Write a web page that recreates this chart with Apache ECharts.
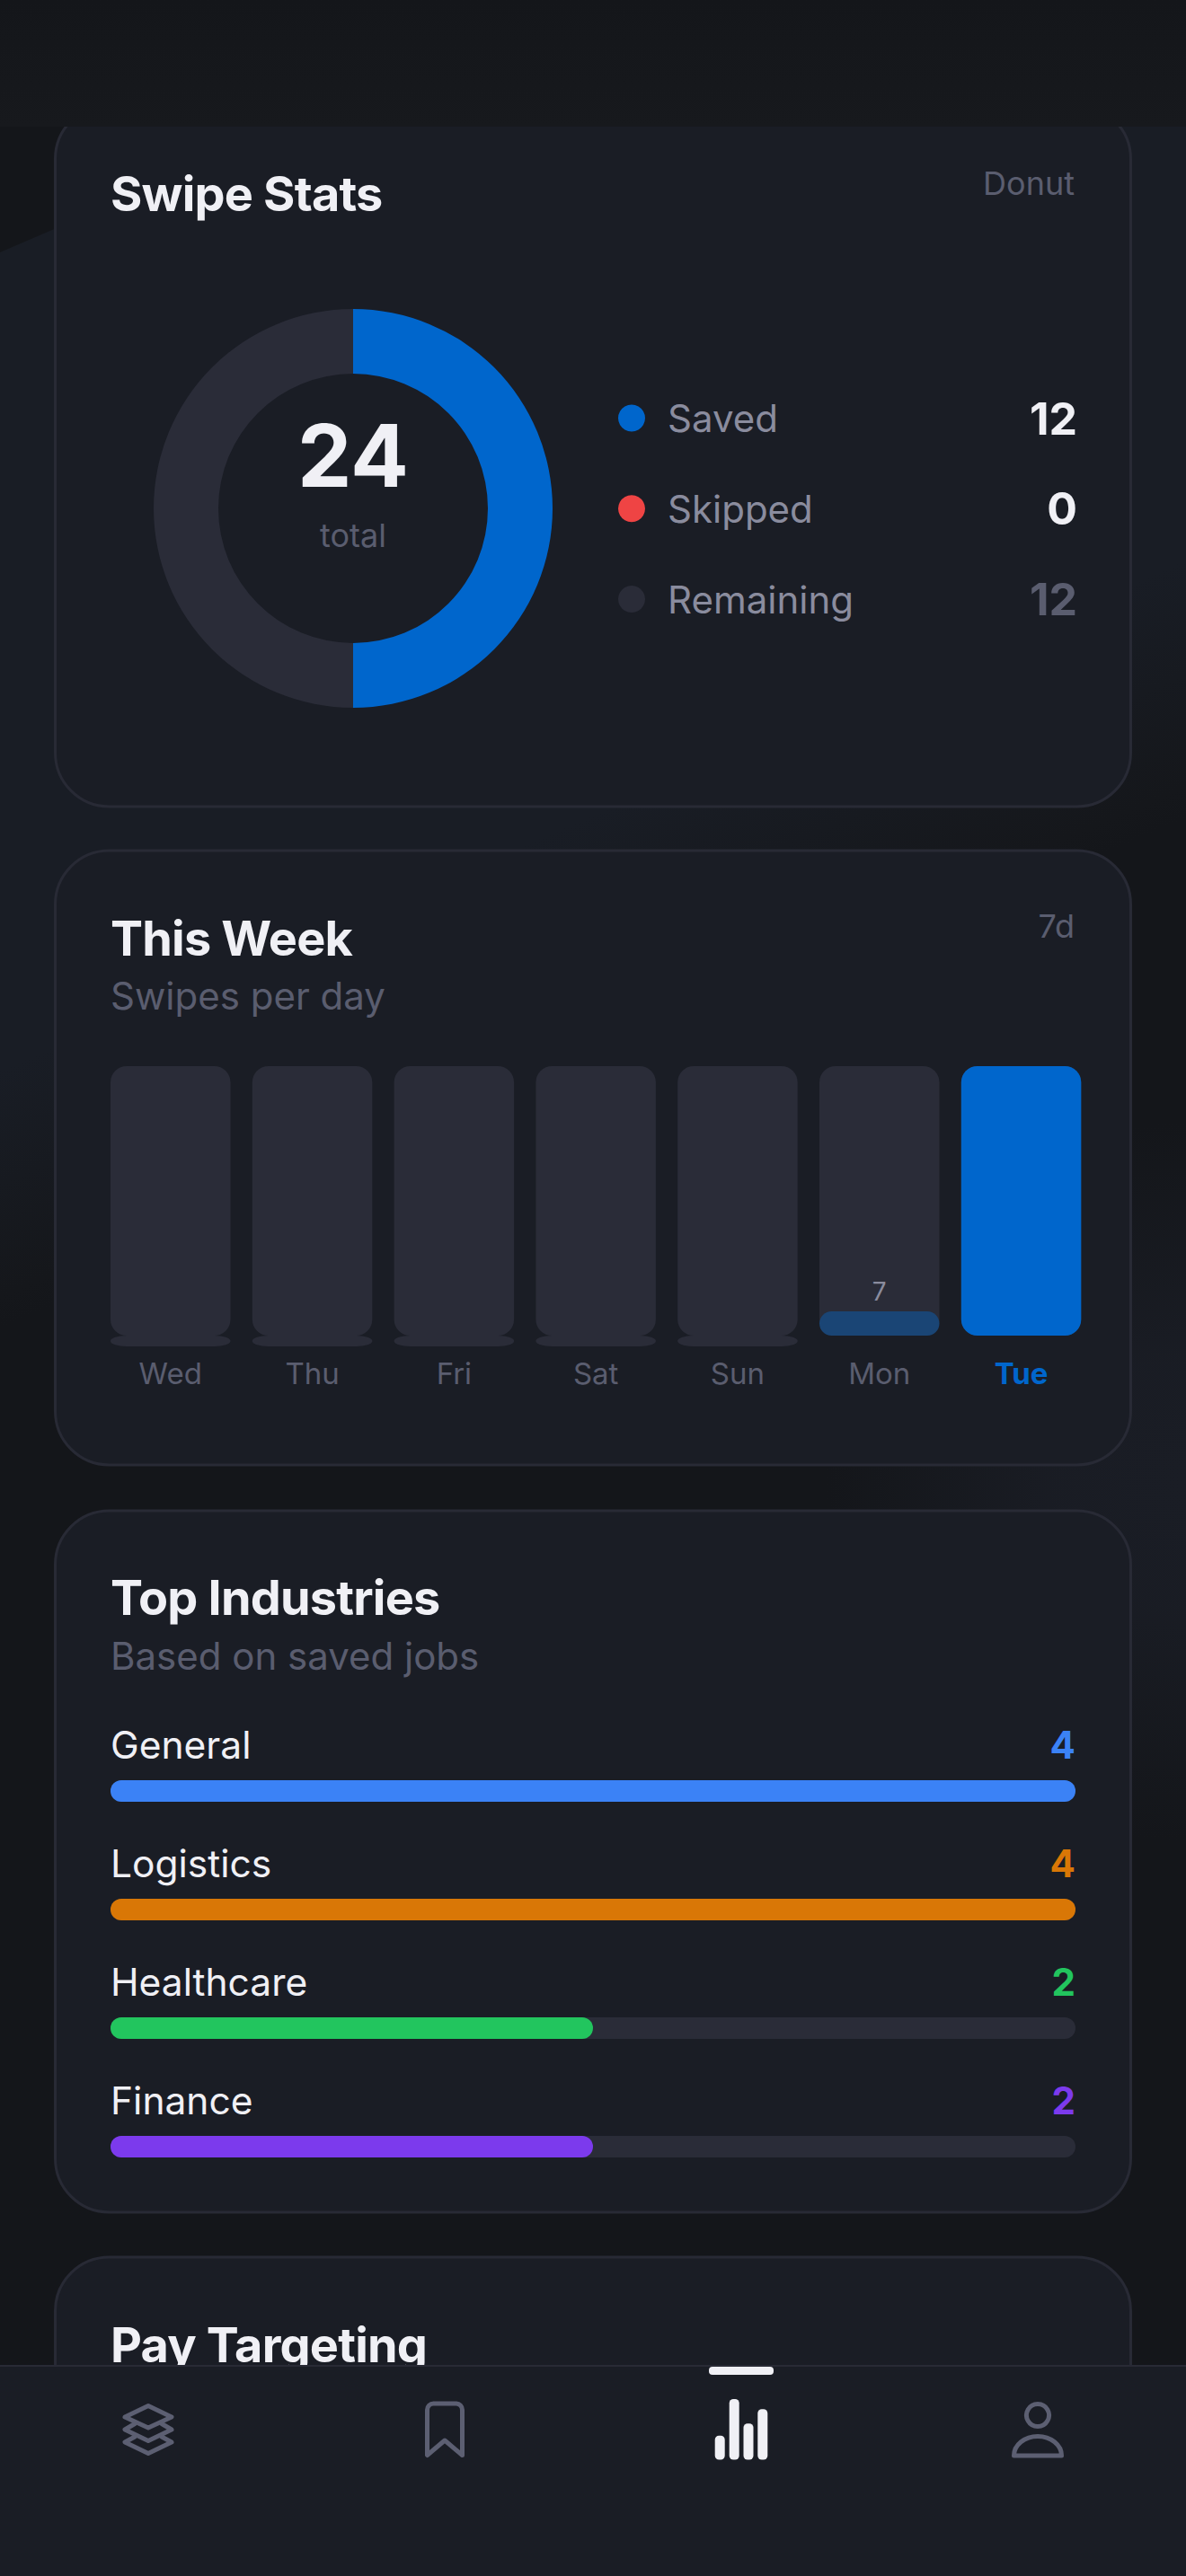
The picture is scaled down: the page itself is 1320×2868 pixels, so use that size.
<!DOCTYPE html>
<html><head><meta charset="utf-8">
<style>html,body{margin:0;padding:0;background:#14161a}#c{width:1320px;height:2868px}
#c text[style*="54px"]{letter-spacing:-.8px}
</style>
<script src="https://cdn.jsdelivr.net/npm/echarts@6/dist/echarts.min.js"></script>
</head><body><div id="c"></div>
<script>
// ---- data ----
const swipeNames = ['Saved', 'Skipped', 'Remaining'];
const swipeValues = [12, 0, 12];
const swipeColors = ['#0066cc', '#ef4444', '#2a2c38'];
const swipeTotalLabel = 'total';
const days = ['Wed', 'Thu', 'Fri', 'Sat', 'Sun', 'Mon', 'Tue'];
const dayValues = [0, 0, 0, 0, 0, 7, 78];
const industries = ['General', 'Logistics', 'Healthcare', 'Finance'];
const industryValues = [4, 4, 2, 2];
const industryColors = ['#3b82f6', '#d97706', '#22c55e', '#7c3aed'];

// ---- palette ----
const FONT = 'Inter, "Noto Sans", sans-serif';
const CARD = '#1a1d25', BORDER = '#282a35', TRACK = '#2a2c38';
const WHITE = '#f0f0f5', MUTED = '#5a5d6f', GREY = '#8a8c9e', ACCENT = '#0066cc';

const total = swipeValues.reduce((a, b) => a + b, 0);
const dayMax = Math.max(...dayValues);
const stub = dayMax / 25;
const indMax = Math.max(...industryValues);

function txt(text, x, y, size, weight, fill, align, z) {
  return { type: 'text', z: z || 1, silent: true,
    style: { text, x, y, fontSize: size, fontWeight: weight, fontFamily: FONT, fill,
      align: align || 'left', verticalAlign: 'middle' } };
}
function card(y, h) {
  return { type: 'rect', z: -5, silent: true, shape: { x: 61.5, y, width: 1197, height: h, r: 60 },
    style: { fill: CARD, stroke: BORDER, lineWidth: 3 } };
}
let iconCount = 0;
function icon(d, stroke) {
  const name = 'navIcon' + (iconCount++);
  echarts.graphic.registerShape(name, echarts.graphic.extendPath(d, {}));
  return { type: name, z: 101, silent: true,
    style: { fill: 'none', stroke, lineWidth: 5, lineJoin: 'round', lineCap: 'round' } };
}
function solid(x, y, w, h, r, fill, z) {
  return { type: 'rect', z: z || 101, silent: true, shape: { x, y, width: w, height: h, r }, style: { fill } };
}

const graphics = [
  // page background
  solid(0, 0, 1320, 2868, 0, '#14161a', -20),
  { type: 'polygon', z: -19, silent: true,
    shape: { points: [[0, 281], [1320, -287], [1320, 2868], [0, 2868]] },
    style: { fill: new echarts.graphic.LinearGradient(0, 281, 435, 1292, [
      { offset: 0, color: '#191d25' }, { offset: 0.76, color: '#191d25' },
      { offset: 0.97, color: '#15171b' }, { offset: 1, color: '#14161a' }], true) } },
  { type: 'rect', z: -18, silent: true, shape: { x: 800, y: 1250, width: 520, height: 800 },
    style: { fill: new echarts.graphic.RadialGradient(1320, 1650, 400, [
      { offset: 0, color: 'rgba(26,29,37,1)' }, { offset: 0.35, color: 'rgba(26,29,37,0.9)' },
      { offset: 1, color: 'rgba(26,29,37,0)' }], true) } },

  // cards
  card(117, 781), card(947, 684), card(1682, 781), card(2513, 400),

  // card 1
  txt('Swipe Stats', 123, 215, 54, 700, WHITE),
  txt('Donut', 1196, 204, 36, 400, MUTED, 'right'),
  txt(String(total), 393, 507, 96, 700, WHITE, 'center', 5),
  txt(swipeTotalLabel, 393, 596, 36, 400, MUTED, 'center', 5),

  // card 2
  txt('This Week', 123, 1044, 54, 700, WHITE),
  txt('Swipes per day', 123, 1108, 42, 400, MUTED),
  txt('7d', 1196, 1031, 36, 400, MUTED, 'right'),

  // card 3
  txt('Top Industries', 123, 1778, 54, 700, WHITE),
  txt('Based on saved jobs', 123, 1843, 42, 400, MUTED),

  // card 4 (clipped by the nav)
  txt('Pay Targeting', 123, 2610, 54, 700, WHITE),

  // header + nav
  { type: 'rect', z: 100, silent: true, shape: { x: 0, y: 0, width: 1320, height: 141 },
    style: { fill: new echarts.graphic.LinearGradient(0, 0, 0, 1, [
      { offset: 0, color: '#14161a' }, { offset: 1, color: '#17191d' }]) } },
  solid(0, 2633, 1320, 235, 0, CARD, 100),
  solid(0, 2633, 1320, 2, 0, BORDER, 100),
  solid(789, 2635, 72, 9, 4, WHITE),

  icon('M165 2678.5L191 2691L165 2703L139 2691Z', '#5c5f72'),
  icon('M150 2698.5L139 2705L165 2717.5L191 2705L180 2698.5', '#5c5f72'),
  icon('M150 2713L139 2719L165 2731.5L191 2719L180 2713', '#5c5f72'),
  icon('M475.5 2733.5V2683A7 7 0 0 1 482.5 2676H507.5A7 7 0 0 1 514.5 2683V2733.5L495 2717Z', '#5c5f72'),
  icon('M1155 2676.5A12.5 12.5 0 1 1 1154.99 2676.5Z', '#5c5f72'),
  icon('M1128.5 2734A26.5 21.5 0 0 1 1181.5 2734Z', '#5c5f72'),

  solid(795.7, 2711.7, 11, 26.8, 4.5, WHITE),
  solid(811.7, 2671, 11, 67.5, 4.5, WHITE),
  solid(827.5, 2698.3, 11, 40.2, 4.5, WHITE),
  solid(843.3, 2682.3, 11, 56.2, 4.5, WHITE)
];

const legendRich = { n: { fontFamily: FONT, fontSize: 42, color: GREY, width: 386, align: 'left', padding: [0, 0, 0, 20], lineHeight: 30, height: 30 } };
swipeNames.forEach((n, i) => {
  legendRich['v' + i] = { fontFamily: FONT, fontSize: 50, fontWeight: 700, lineHeight: 30, height: 30, width: 70, align: 'right',
    color: i === 2 ? MUTED : WHITE };
});

const option = {
  animation: false,
  backgroundColor: 'transparent',
  textStyle: { fontFamily: FONT },
  graphic: { elements: graphics },
  legend: {
    left: 683, top: 435.5, orient: 'vertical', itemWidth: 30, itemHeight: 30, itemGap: 50.8,
    selectedMode: false, icon: 'circle', data: swipeNames,
    formatter: name => { const i = swipeNames.indexOf(name); return `{n|${name}}{v${i}|${swipeValues[i]}}`; },
    textStyle: { rich: legendRich }
  },
  grid: [
    { left: 110.85, width: 1104.6, top: 1187, height: 312, containLabel: false },
    { left: 123, width: 1074, top: 1928, height: 528, containLabel: false }
  ],
  xAxis: [
    { gridIndex: 0, type: 'category', data: days.map(d => d === 'Tue'
        ? { value: d, textStyle: { color: ACCENT, fontWeight: 700 } } : d),
      axisLine: { show: false, onZero: false }, axisTick: { show: false },
      axisLabel: { margin: 13.5, fontSize: 33, color: MUTED, fontFamily: FONT, interval: 0 } },
    { gridIndex: 1, type: 'value', min: 0, max: indMax, show: false }
  ],
  yAxis: [
    { gridIndex: 0, type: 'value', min: -stub, max: dayMax, show: false },
    { gridIndex: 1, type: 'category', inverse: true, data: industries, show: false }
  ],
  series: [
    { type: 'pie', center: [393, 566], radius: [150, 222], startAngle: 90, clockwise: true, silent: true,
      label: { show: false }, labelLine: { show: false }, avoidLabelOverlap: false, minAngle: 0,
      data: swipeNames.map((name, i) => ({ name, value: swipeValues[i], itemStyle: { color: swipeColors[i] } })) },

    { type: 'bar', xAxisIndex: 0, yAxisIndex: 0, barWidth: 133.5, barGap: '-100%', silent: true, z: 2,
      data: days.map(() => dayMax), itemStyle: { color: TRACK, borderRadius: 18 } },
    { type: 'pictorialBar', xAxisIndex: 0, yAxisIndex: 0, silent: true, z: 2,
      symbol: 'path://M18 0H115.5A18 6 0 0 1 115.5 12H18A18 6 0 0 1 18 0Z',
      symbolSize: [133.5, '100%'], symbolPosition: 'start',
      data: dayValues.map(v => v === 0 ? -stub : null), itemStyle: { color: TRACK } },
    { type: 'bar', xAxisIndex: 0, yAxisIndex: 0, barWidth: 133.5, barGap: '-100%', silent: true, z: 3,
      data: dayValues.map((v, i) => ({
        value: v === 0 ? null : v,
        itemStyle: { color: v === dayMax ? ACCENT : '#1a4575' },
        label: { show: v > 0 && v < dayMax }
      })),
      itemStyle: { borderRadius: 18 },
      label: { show: true, position: 'top', distance: 8, fontSize: 28, color: GREY, fontFamily: FONT } },

    { type: 'bar', xAxisIndex: 1, yAxisIndex: 1, barWidth: 24, barGap: '-100%', silent: true, z: 2,
      data: industries.map(() => indMax), itemStyle: { color: TRACK, borderRadius: 12 },
      label: { show: true, position: [0, -40], align: 'left', verticalAlign: 'middle',
        fontSize: 42.5, color: WHITE, fontFamily: FONT, formatter: p => p.name } },
    { type: 'bar', xAxisIndex: 1, yAxisIndex: 1, barWidth: 24, barGap: '-100%', silent: true, z: 3,
      data: industryValues.map((v, i) => ({ value: v, itemStyle: { color: industryColors[i] } })),
      itemStyle: { borderRadius: 12 } },
    { type: 'bar', xAxisIndex: 1, yAxisIndex: 1, barWidth: 24, barGap: '-100%', silent: true, z: 4,
      data: industries.map((n, i) => ({ value: indMax, itemStyle: { color: 'transparent' },
        label: { color: industryColors[i], formatter: String(industryValues[i]) } })),
      label: { show: true, position: [1074, -40], align: 'right', verticalAlign: 'middle',
        fontSize: 42, fontWeight: 700, fontFamily: FONT } }
  ]
};
const chart = echarts.init(document.getElementById('c'), null, { renderer: 'svg', width: 1320, height: 2868 });
chart.setOption(option);
</script></body></html>
